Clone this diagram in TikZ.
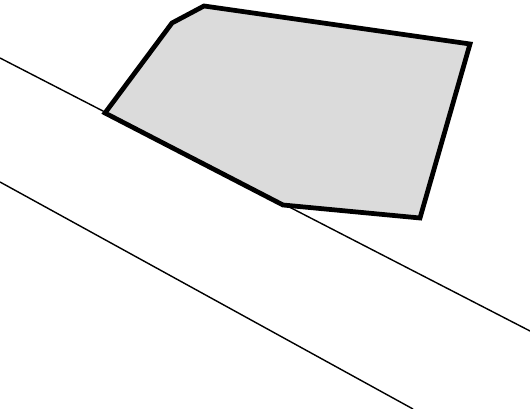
\documentclass[tikz,border=0pt]{standalone}
\usepackage{amsmath}
\usepackage{tikz}

\begin{document}
\begin{tikzpicture}[outline/.style={line width=2.7pt, line join=miter}, edge/.style={line width=0.8pt}]
\useasboundingbox (0,0) rectangle (10.6,8.18);

% corners of the block
\coordinate (A) at (2.10,5.92);
\coordinate (B) at (3.44,7.72);
\coordinate (C) at (4.08,8.06);
\coordinate (D) at (9.40,7.30);
\coordinate (E) at (8.40,3.82);
\coordinate (F) at (5.66,4.08);

% the two lines of the slope
\coordinate (U1) at (0,7.02);
\coordinate (U2) at (10.6,1.56);
\coordinate (L1) at (0,4.54);
\coordinate (L2) at (8.26,0);
\draw [edge] (U1) -- (U2);
\draw [edge] (L1) -- (L2);

\draw [outline, fill=black!14] (A) -- (B) -- (C) -- (D) -- (E) -- (F) -- cycle;
\end{tikzpicture}
\end{document}
